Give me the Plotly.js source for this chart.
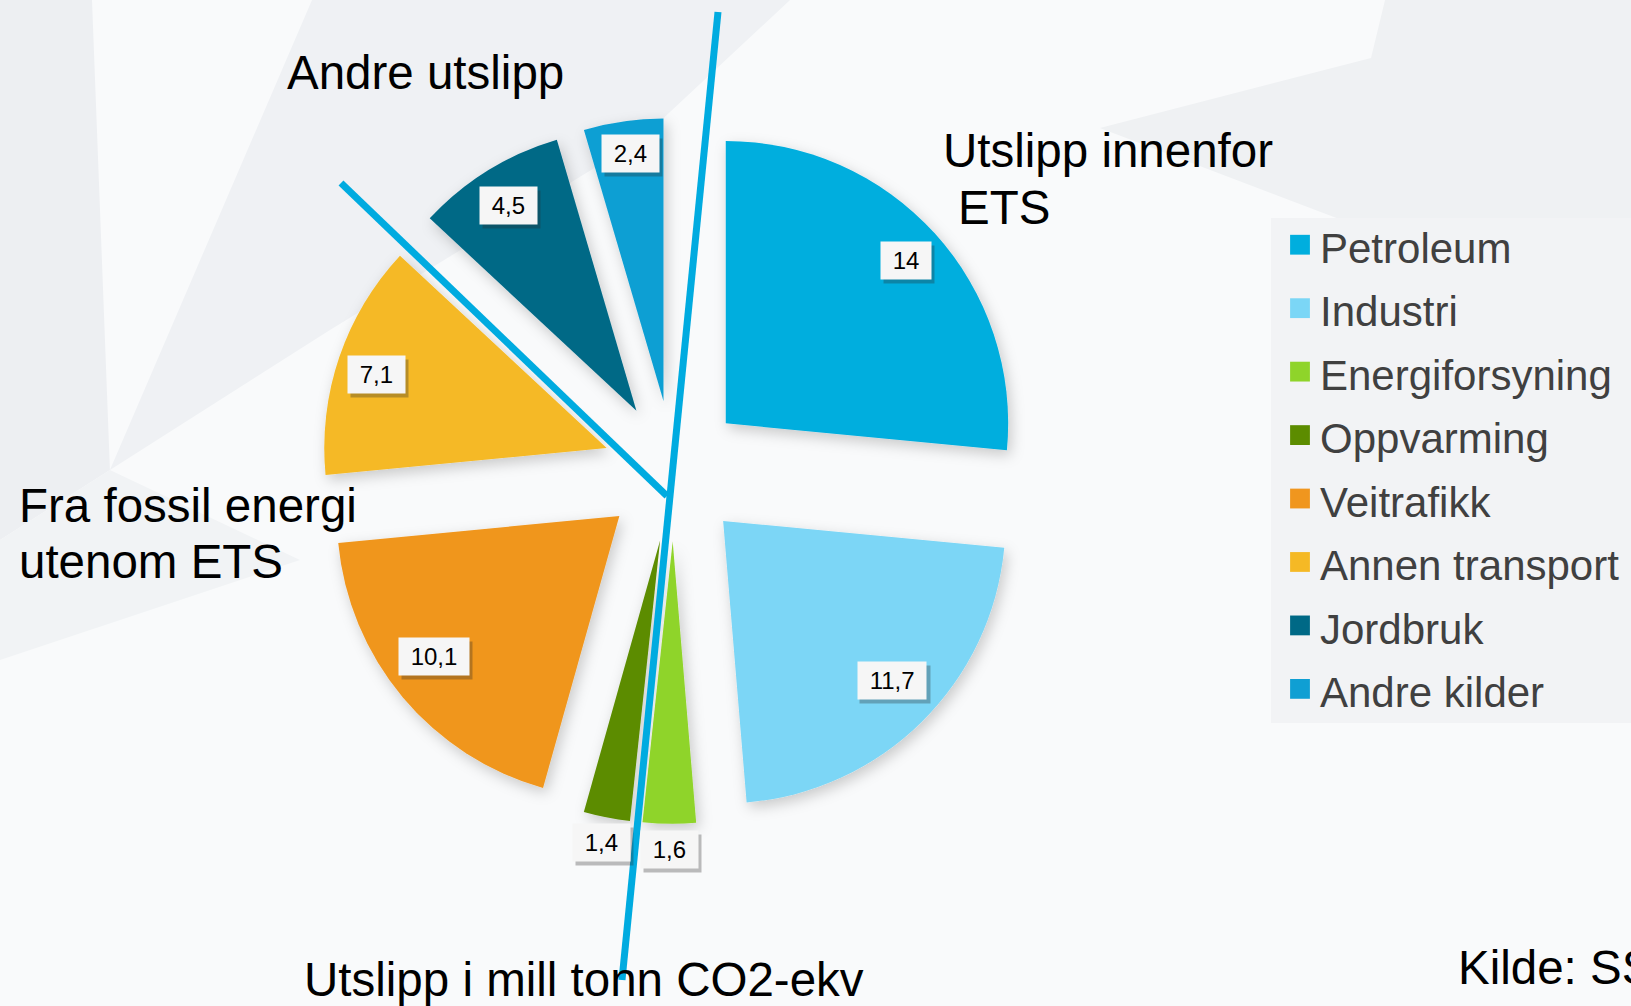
<!DOCTYPE html>
<html>
<head>
<meta charset="utf-8">
<script src="https://cdn.plot.ly/plotly-3.0.1.min.js"></script>
<style>
  html, body { margin: 0; padding: 0; background: #ffffff; }
  #chart { width: 1631px; height: 1006px; }
</style>
</head>
<body>
<div id="chart"></div>
<script>
// ---- data ----
const categories = ['Petroleum', 'Industri', 'Energiforsyning', 'Oppvarming',
                    'Veitrafikk', 'Annen transport', 'Jordbruk', 'Andre kilder'];
const values = [14, 11.7, 1.6, 1.4, 10.1, 7.1, 4.5, 2.4];
const sliceColors = ['#00aede', '#7bd6f6', '#8fd42a', '#5c8c00',
                     '#f0961e', '#f5b925', '#006986', '#0f9fd3'];
const groupLabels = ['Andre utslipp', 'Utslipp innenfor', 'ETS', 'Fra fossil energi', 'utenom ETS'];
const unitNote = 'Utslipp i mill tonn CO2-ekv';
const sourceNote = 'Kilde: SSB';

// ---- layout helpers (pixel -> paper) ----
const W = 1631, H = 1006;
const px = x => x / W;
const py = y => 1 - y / H;
const FONT = 'Liberation Sans, Arial, Helvetica, sans-serif';
const PULL = 0.25;
// small pixel nudges of the value boxes (layout only)
const labelNudge = [[3, -1], [0, -11], [0, 0], [0, 0], [-1, -14], [-3, 4], [-2, -1], [1, -10]];

function poly(pts, color) {
  const d = pts.map((p, i) => (i ? 'L' : 'M') + px(p[0]).toFixed(4) + ',' + py(p[1]).toFixed(4)).join(' ') + ' Z';
  return { type: 'path', xref: 'paper', yref: 'paper', path: d, fillcolor: color,
           line: { width: 0 }, layer: 'below' };
}
function seg(x0, y0, x1, y1) {
  return { type: 'line', xref: 'paper', yref: 'paper', x0: px(x0), y0: py(y0), x1: px(x1), y1: py(y1),
           line: { color: '#00abe0', width: 7 }, layer: 'above' };
}
function txt(t, x, y, size) {
  return { text: t, xref: 'paper', yref: 'paper', x: px(x), y: py(y), xanchor: 'left', yanchor: 'middle',
           showarrow: false, borderpad: 0, font: { family: FONT, size: size || 47.5, color: '#000000' } };
}

const bgShapes = [
  poly([[0,0],[92,0],[110,470],[0,540]], '#edeff2'),
  poly([[312,0],[790,0],[640,140],[330,330],[110,470]], '#eff1f4'),
  poly([[1385,0],[1631,0],[1631,330],[1100,128],[1371,58]], '#eff1f3'),
  poly([[0,540],[110,470],[300,560],[0,660]], '#f1f3f5'),
  poly([[1271,218],[1631,218],[1631,723],[1271,723]], '#f2f3f5')
];
const lineShapes = [ seg(718, 12, 622, 980), seg(341, 183, 667, 496) ];

const baseAnnotations = [
  txt(groupLabels[0], 286, 73),
  txt(groupLabels[1], 942, 151),
  txt(groupLabels[2], 957, 208),
  txt(groupLabels[3], 18, 505),
  txt(groupLabels[4], 18, 561),
  txt(unitNote, 303, 979),
  txt(sourceNote, 1457, 967)
];

const trace = {
  type: 'pie',
  labels: categories.map(c => '<span style="font-size:42px">' + c + '</span>'),
  values: values,
  sort: false,
  direction: 'clockwise',
  rotation: 0,
  pull: values.map(() => PULL),
  marker: { colors: sliceColors, line: { width: 0 } },
  textinfo: 'none',
  hoverinfo: 'none',
  domain: { x: [0.1965, 0.6294], y: [0.1811, 0.8829] }
};

const layout = {
  width: W, height: H,
  margin: { l: 0, r: 0, t: 0, b: 0, pad: 0 },
  paper_bgcolor: '#f9fafb',
  plot_bgcolor: 'rgba(0,0,0,0)',
  showlegend: true,
  legend: {
    x: px(1280), xanchor: 'left', y: py(208), yanchor: 'top',
    bgcolor: 'rgba(0,0,0,0)', borderwidth: 0,
    font: { family: FONT, size: 46.5, color: '#404040' },
    itemclick: false, itemdoubleclick: false
  },
  shapes: bgShapes.concat(lineShapes),
  annotations: baseAnnotations
};

Plotly.newPlot('chart', [trace], layout, { staticPlot: true, displayModeBar: false }).then(gd => {
  const cd0 = gd.calcdata[0][0];
  const cx = cd0.cx, cy = cd0.cy, r = cd0.r;
  const total = values.reduce((a, b) => a + b, 0);
  let cum = 0;
  const shadowAnn = [], labelAnn = [];
  values.forEach((v, i) => {
    const mid = (cum + v / 2) / total * 2 * Math.PI;
    cum += v;
    const f = v < 2 ? 1.09 : 0.85;
    const dx = Math.sin(mid), dy = -Math.cos(mid);
    const lx = cx + (PULL + f) * r * dx + labelNudge[i][0];
    const ly = cy + (PULL + f) * r * dy + labelNudge[i][1];
    const s = String(v).replace('.', ',');
    const t = '\u00a0' + s + '\u00a0';
    // invisible same-width placeholder for the shadow box (figure / punctuation spaces)
    const ghost = '\u00a0' + s.replace(/[0-9]/g, '\u2007').replace(',', '\u2008') + '\u00a0';
    const common = { xref: 'paper', yref: 'paper', x: px(lx), y: py(ly), xanchor: 'center', yanchor: 'middle',
                     showarrow: false, borderpad: 5 };
    shadowAnn.push(Object.assign({}, common, { text: ghost, xshift: 3, yshift: -4,
      bgcolor: 'rgba(40,40,40,0.30)', font: { family: FONT, size: 24, color: 'rgba(0,0,0,0)' } }));
    labelAnn.push(Object.assign({}, common, { text: t,
      bgcolor: '#f6f6f6', font: { family: FONT, size: 24, color: '#000000' } }));
  });
  return Plotly.relayout(gd, { annotations: baseAnnotations.concat(shadowAnn, labelAnn) }).then(() => gd);
}).then(gd => {
  const NS = 'http://www.w3.org/2000/svg';
  const svg = gd.querySelector('svg.main-svg');
  let defs = svg.querySelector('defs');
  if (!defs) { defs = document.createElementNS(NS, 'defs'); svg.insertBefore(defs, svg.firstChild); }
  const filt = document.createElementNS(NS, 'filter');
  filt.setAttribute('id', 'pieShadow');
  filt.setAttribute('x', '-20%'); filt.setAttribute('y', '-20%');
  filt.setAttribute('width', '140%'); filt.setAttribute('height', '140%');
  const ds = document.createElementNS(NS, 'feDropShadow');
  ds.setAttribute('dx', '3'); ds.setAttribute('dy', '5'); ds.setAttribute('stdDeviation', '7');
  ds.setAttribute('flood-color', '#000'); ds.setAttribute('flood-opacity', '0.2');
  filt.appendChild(ds); defs.appendChild(filt);
  const pl = gd.querySelector('.pielayer');
  if (pl) pl.setAttribute('filter', 'url(#pieShadow)');
  gd.querySelectorAll('.legendpoints path').forEach(p => {
    const tr = p.getAttribute('transform') || '';
    p.setAttribute('transform', tr + ' scale(1.65)');
  });
});
</script>
</body>
</html>
